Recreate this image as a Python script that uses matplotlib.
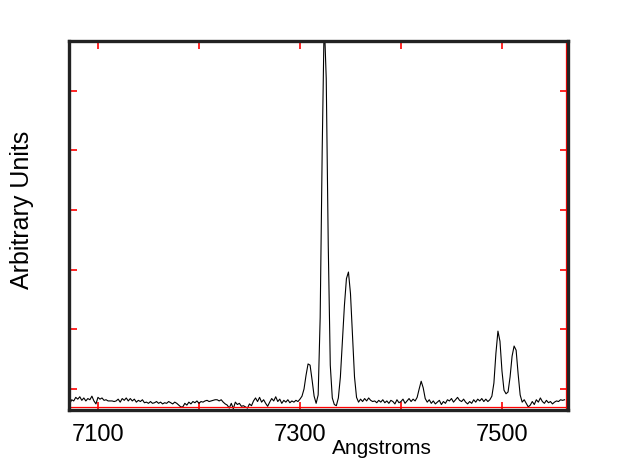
import numpy as np
import matplotlib
matplotlib.use("Agg")
import matplotlib.pyplot as plt

# spectrum, one value every 2 Angstrom starting at 7072
start_wavelength = 7072
step = 2
intensity = [
    7.5, 8.2, 8.0, 8.6, 8.3, 8.7, 8.1, 8.5, 8.0, 8.4,      # 7072-7090
    8.2, 8.8, 8.0, 7.5, 8.6, 8.3, 8.5, 8.1, 8.2, 8.0,      # 7092-7110
    8.0, 8.0, 7.9, 8.0, 8.3, 7.8, 8.4, 8.1, 8.5, 8.0,      # 7112-7130
    8.4, 8.0, 8.3, 7.8, 8.1, 7.9, 8.2, 7.7, 7.8, 7.6,      # 7132-7150
    7.9, 7.6, 7.7, 7.9, 7.6, 7.8, 7.5, 7.7, 7.6, 7.9,      # 7152-7170
    7.7, 7.5, 7.8, 7.6, 7.3, 7.0, 7.0, 7.6, 7.3, 7.8,      # 7172-7190
    7.5, 7.9, 7.7, 8.0, 7.6, 7.9, 7.8, 8.0, 8.1, 7.9,      # 7192-7210
    8.0, 8.1, 8.2, 8.2, 8.0, 8.2, 7.8, 7.5, 7.3, 6.8,      # 7212-7230
    7.6, 6.7, 7.8, 7.4, 7.6, 7.1, 7.2, 7.0, 6.8, 7.5,      # 7232-7250
    7.2, 8.0, 8.5, 7.9, 8.6, 7.8, 8.2, 7.6, 7.1, 7.8,      # 7252-7270
    8.4, 8.0, 8.7, 7.9, 8.3, 7.6, 8.1, 7.8, 8.2, 7.7,      # 7272-7290
    8.0, 7.8, 8.1, 7.9, 8.3, 8.8, 10.0, 12.3, 14.2, 14.0,  # 7292-7310
    11.5, 8.8, 7.6, 9.0, 22, 50, 72, 62, 34, 14,           # 7312-7330
    8.5, 7.4, 7.2, 8.5, 12, 18, 24, 28.5, 29.6, 26,        # 7332-7350
    19, 12, 8.6, 7.8, 8.3, 7.9, 8.4, 8.0, 8.5, 8.1,        # 7352-7370
    7.9, 8.0, 7.7, 8.1, 7.8, 8.2, 7.7, 8.0, 7.6, 8.1,      # 7372-7390
    7.9, 7.5, 8.2, 7.7, 7.9, 8.3, 7.6, 8.0, 8.4, 7.9,      # 7392-7410
    8.3, 8.0, 8.6, 10.0, 11.3, 10.2, 8.4, 7.8, 8.2, 7.6,   # 7412-7430
    8.0, 7.5, 7.8, 8.1, 7.4, 7.9, 7.6, 8.2, 8.0, 8.4,      # 7432-7450
    7.8, 8.2, 8.6, 8.1, 7.9, 8.3, 7.8, 7.5, 7.9, 7.6,      # 7452-7470
    8.2, 7.8, 8.3, 8.0, 8.4, 7.9, 8.3, 7.9, 8.2, 8.8,      # 7472-7490
    11, 16, 19.7, 18, 13, 9.8, 9.2, 9.5, 12, 15.5,         # 7492-7510
    17.2, 16.5, 12.5, 9.0, 7.8, 8.2, 7.6, 7.0, 7.3, 7.9,   # 7512-7530
    7.4, 8.2, 7.8, 8.5, 7.9, 7.6, 8.1, 7.7, 7.9, 7.5,      # 7532-7550
    7.8, 8.0, 7.9, 8.2, 8.1, 8.2,                          # 7552-7562
]
wavelength = start_wavelength + step * np.arange(len(intensity))

x_labels = [7100, 7300, 7500]
x_minor = [7200, 7400]
y_ticks = [10, 20, 30, 40, 50, 60]

plt.rcParams['font.family'] = ['Liberation Sans', 'DejaVu Sans']

fig = plt.figure(figsize=(6.34, 4.60), dpi=100)
ax = fig.add_axes([0.1088, 0.1065, 0.787, 0.802])

ax.plot(wavelength, intensity, color='black', lw=0.8)

ax.set_xlim(7071.3, 7565.3)
ax.set_ylim(6.48, 68.3)

# thin red inner edge along bottom and right frame
ax.axhline(6.48 + 0.45, color='red', lw=0.9)
ax.axvline(7565.3 - 2.2, color='red', lw=0.9)

for s in ax.spines.values():
    s.set_color('#222222')
    s.set_linewidth(2.4)

ax.set_xticks(x_labels)
ax.set_xticks(x_minor, minor=True)
ax.set_yticks(y_ticks)
ax.set_yticklabels([])
ax.tick_params(which='both', direction='in', color='red', length=6, width=1.2,
               top=True, right=True, labelsize=17, pad=9)

fig.text(382 / 634, 1 - 449 / 460, 'Angstroms', fontsize=15, ha='center', va='center')
fig.text(22 / 634, 1 - 210 / 460, 'Arbitrary Units', fontsize=18, rotation=90,
         ha='center', va='center')

fig.savefig('out.png', dpi=100)
